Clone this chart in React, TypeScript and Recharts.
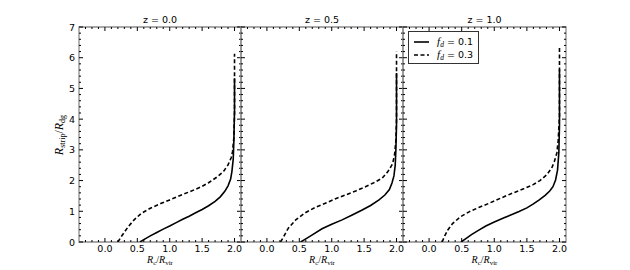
import { LineChart, Line, XAxis, YAxis, ReferenceArea, Legend } from "recharts";

// R_c/R_vir vs R_strip/R_dg, one panel per redshift
const redshifts = ["0.0", "0.5", "1.0"];
const seriesNames = ["0.1", "0.3"];

const z00Thin = [
  [0.54, 0], [0.62, 0.1], [0.7, 0.2], [0.8, 0.31], [0.9, 0.42], [1.0, 0.52],
  [1.1, 0.63], [1.2, 0.74], [1.3, 0.84], [1.4, 0.95], [1.5, 1.06], [1.6, 1.18],
  [1.7, 1.32], [1.78, 1.47], [1.85, 1.65], [1.9, 1.83], [1.94, 2.05], [1.96, 2.3],
  [1.98, 2.7], [1.99, 3.3], [2.0, 4.3], [2.0, 5.33],
];
const z00Thick = [
  [0.2, 0], [0.25, 0.17], [0.3, 0.32], [0.36, 0.5], [0.45, 0.72], [0.56, 0.93],
  [0.7, 1.1], [0.87, 1.26], [1.0, 1.37], [1.18, 1.53], [1.3, 1.63], [1.49, 1.8],
  [1.6, 1.93], [1.74, 2.13], [1.83, 2.3], [1.9, 2.51], [1.95, 2.75], [1.97, 2.95],
  [1.99, 3.4], [2.0, 4.2], [2.0, 6.13],
];
const z05Thin = [
  [0.52, 0], [0.6, 0.1], [0.7, 0.23], [0.85, 0.43], [1.0, 0.58], [1.16, 0.72],
  [1.3, 0.86], [1.47, 1.04], [1.6, 1.19], [1.73, 1.37], [1.82, 1.53], [1.89, 1.71],
  [1.93, 1.92], [1.96, 2.15], [1.98, 2.5], [1.99, 3.0], [2.0, 3.8], [2.0, 5.5],
];
const z05Thick = [
  [0.21, 0], [0.26, 0.18], [0.33, 0.45], [0.45, 0.73], [0.59, 0.95], [0.75, 1.13],
  [0.9, 1.26], [1.05, 1.4], [1.21, 1.53], [1.37, 1.66], [1.52, 1.8], [1.65, 1.93],
  [1.78, 2.08], [1.87, 2.3], [1.94, 2.55], [1.97, 2.85], [1.99, 3.3], [2.0, 4.0],
  [2.0, 6.2],
];
const z10Thin = [
  [0.49, 0], [0.57, 0.12], [0.65, 0.24], [0.75, 0.37], [0.87, 0.52], [1.0, 0.65],
  [1.15, 0.79], [1.28, 0.9], [1.38, 0.99], [1.5, 1.11], [1.6, 1.24], [1.69, 1.37],
  [1.78, 1.52], [1.85, 1.66], [1.9, 1.8], [1.94, 2.02], [1.97, 2.34], [1.99, 2.9],
  [2.0, 3.8], [2.0, 5.62],
];
const z10Thick = [
  [0.2, 0], [0.24, 0.2], [0.29, 0.4], [0.36, 0.6], [0.48, 0.82], [0.62, 0.99],
  [0.77, 1.13], [0.92, 1.26], [1.1, 1.43], [1.28, 1.59], [1.45, 1.73], [1.59, 1.86],
  [1.7, 2.0], [1.8, 2.18], [1.88, 2.4], [1.92, 2.61], [1.96, 2.9], [1.98, 3.3],
  [2.0, 4.1], [2.0, 6.38],
];

const xMajor = [0, 0.5, 1, 1.5, 2];
const yMajor = [0, 1, 2, 3, 4, 5, 6, 7];

const W = 630;
const H = 270;
const TOP = 27;
const BOTTOM = 242;
const AXH = 20;
const AXW = 30;
const panels = [
  { left: 79, right: 241, thin: z00Thin, thick: z00Thick },
  { left: 241, right: 403, thin: z05Thin, thick: z05Thick },
  { left: 403, right: 566, thin: z10Thin, thick: z10Thick },
];

const steps = (from: number, to: number, step: number) => {
  const out: number[] = [];
  for (let i = 0; from + i * step <= to + 1e-9; i++) out.push(+(from + i * step).toFixed(2));
  return out;
};
const xTicks = steps(-0.3, 2.0, 0.1);
const yTicks = steps(0, 7, 0.2);

const toPts = (arr: number[][]) => arr.map(([x, y]) => ({ x, y }));
const isMajor = (v: number, list: number[]) => list.some((m) => Math.abs(m - v) < 1e-6);

const sans = "'DejaVu Sans', sans-serif";
const serif = "'Liberation Serif', 'DejaVu Serif', serif";

const makeXTick = () => (props: any) => {
  const { x, payload } = props;
  const v = payload.value;
  const major = isMajor(v, xMajor);
  const len = major ? 4 : 2;
  return (
    <g>
      <line x1={x} x2={x} y1={BOTTOM} y2={BOTTOM - len} stroke="#000" strokeWidth={1} />
      <line x1={x} x2={x} y1={TOP} y2={TOP + len} stroke="#000" strokeWidth={1} />
      {major && (
        <text x={x} y={BOTTOM + 10} textAnchor="middle" fontSize={9.5} fontFamily={sans} fill="#000">
          {v.toFixed(1)}
        </text>
      )}
    </g>
  );
};

const makeYTick = (left: number, right: number, labels: boolean) => (props: any) => {
  const { y, payload } = props;
  const v = payload.value;
  const major = isMajor(v, yMajor);
  const len = major ? 4 : 2;
  return (
    <g>
      <line x1={left} x2={left + len} y1={y} y2={y} stroke="#000" strokeWidth={1} />
      <line x1={right} x2={right - len} y1={y} y2={y} stroke="#000" strokeWidth={1} />
      {labels && major && (
        <text x={left - 4} y={y + 3.5} textAnchor="end" fontSize={9.5} fontFamily={sans} fill="#000">
          {v}
        </text>
      )}
    </g>
  );
};

const renderLegend = (props: any) => {
  const { payload } = props;
  return (
    <div
      style={{
        border: "1px solid #333",
        background: "#fff",
        padding: "3px 5px 2px 4px",
        width: 60,
      }}
    >
      {payload.map((entry: any, i: number) => (
        <div key={`item-${i}`} style={{ display: "flex", alignItems: "center", height: 13 }}>
          <svg width={18} height={6} style={{ marginRight: 8 }}>
            <line
              x1={1}
              x2={17}
              y1={3}
              y2={3}
              stroke="#000"
              strokeWidth={1.6}
              strokeDasharray={i === 1 ? "4 2.5" : undefined}
            />
          </svg>
          <span style={{ fontSize: 9.5, fontFamily: sans, whiteSpace: "nowrap" }}>
            <span style={{ fontFamily: serif, fontStyle: "italic", fontSize: 11 }}>f</span>
            <span style={{ fontFamily: serif, fontStyle: "italic", fontSize: 7.5, verticalAlign: -2 }}>d</span>
            {" = " + entry.value}
          </span>
        </div>
      ))}
    </div>
  );
};

const Panel = ({ idx }: { idx: number }) => {
  const p = panels[idx];
  const cx = (p.left + p.right) / 2;
  return (
    <div style={{ position: "absolute", left: 0, top: 0 }}>
      <LineChart
        width={W}
        height={H}
        margin={{ top: TOP, bottom: H - BOTTOM - AXH, left: p.left - AXW, right: W - p.right }}
      >
        <XAxis
          dataKey="x"
          type="number"
          domain={[-0.4, 2.1]}
          ticks={xTicks}
          interval={0}
          height={AXH}
          axisLine={false}
          tickLine={false}
          tick={makeXTick()}
          allowDataOverflow
        />
        <YAxis
          type="number"
          domain={[0, 7]}
          ticks={yTicks}
          interval={0}
          width={AXW}
          axisLine={false}
          tickLine={false}
          tick={makeYTick(p.left, p.right, idx === 0)}
          allowDataOverflow
        />
        <ReferenceArea x1={-0.4} x2={2.1} y1={0} y2={7} fill="none" stroke="#8c8c8c" strokeWidth={1.3} />
        <Line
          data={toPts(p.thin)}
          dataKey="y"
          name={seriesNames[0]}
          type="linear"
          stroke="#000"
          strokeWidth={1.6}
          dot={false}
          isAnimationActive={false}
        />
        <Line
          data={toPts(p.thick)}
          dataKey="y"
          name={seriesNames[1]}
          type="linear"
          stroke="#000"
          strokeWidth={1.6}
          strokeDasharray="4 2.5"
          dot={false}
          isAnimationActive={false}
        />
        {idx === 2 && (
          <Legend
            layout="vertical"
            align="center"
            verticalAlign="middle"
            content={renderLegend}
            wrapperStyle={{ position: "absolute", left: 408, top: 31, width: "auto" }}
          />
        )}
        <text x={cx} y={23} textAnchor="middle" fontSize={9.5} fontFamily={sans} fill="#000">
          {"z = " + redshifts[idx]}
        </text>
        <text x={cx} y={263} textAnchor="middle" fontFamily={serif} fontSize={10} fill="#000">
          <tspan fontStyle="italic">R</tspan>
          <tspan fontSize={7} dy={2}>c</tspan>
          <tspan dy={-2}>/</tspan>
          <tspan fontStyle="italic">R</tspan>
          <tspan fontSize={7} dy={2}>vir</tspan>
        </text>
        {idx === 0 && (
          <text
            x={0}
            y={0}
            transform={`translate(63,135) rotate(-90)`}
            textAnchor="middle"
            fontFamily={serif}
            fontSize={12}
            fill="#000"
          >
            <tspan fontStyle="italic">R</tspan>
            <tspan fontSize={8} dy={2}>strip</tspan>
            <tspan dy={-2}>/</tspan>
            <tspan fontStyle="italic">R</tspan>
            <tspan fontSize={8} dy={2}>dg</tspan>
          </text>
        )}
      </LineChart>
    </div>
  );
}

export default function App() {
  return (
    <div style={{ position: "absolute", left: 0, top: 0, width: W, height: H, background: "#fff" }}>
      <Panel idx={0} />
      <Panel idx={1} />
      <Panel idx={2} />
    </div>
  );
}
